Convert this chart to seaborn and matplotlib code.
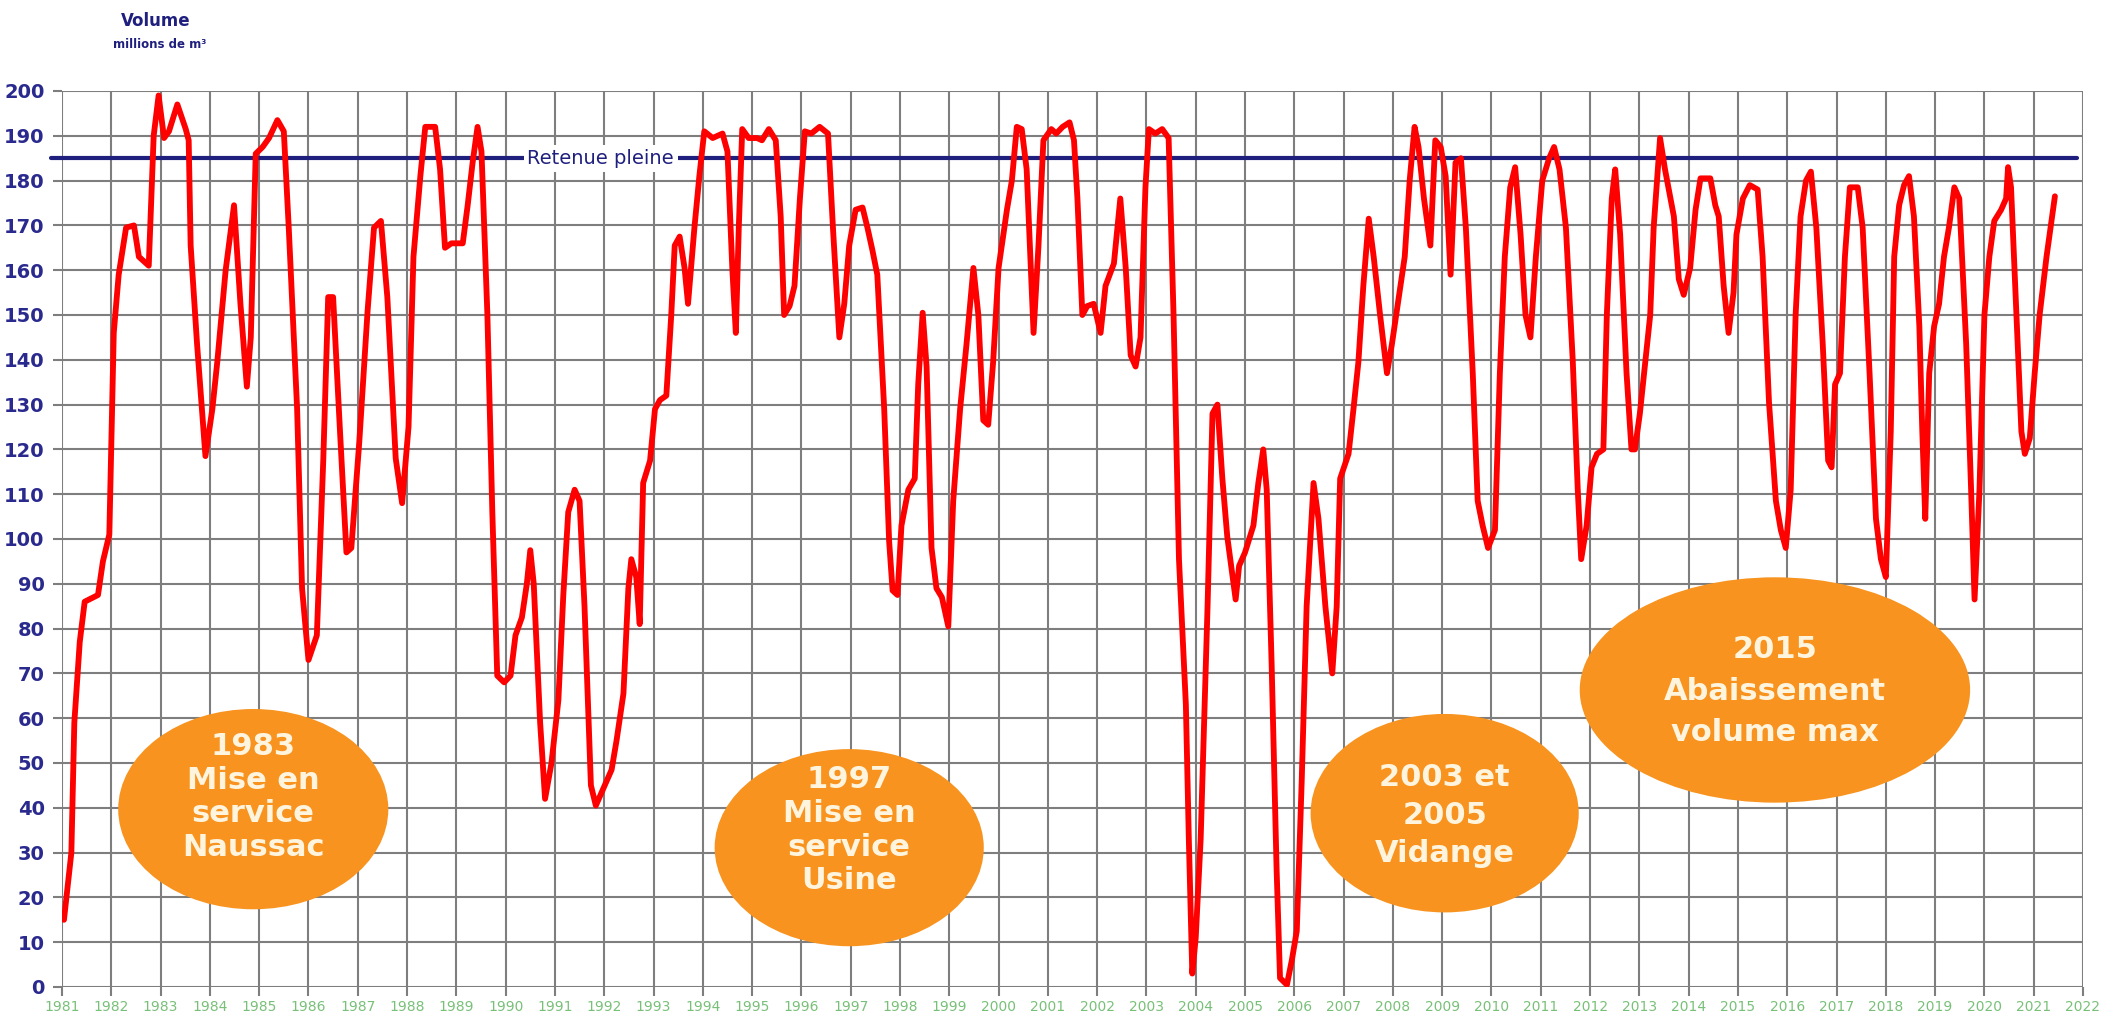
import matplotlib
matplotlib.use("Agg")
import matplotlib.pyplot as plt
from matplotlib.patches import Ellipse
import seaborn as sns
import pandas as pd

# ---- data ----
years = [
    1981.04, 1981.19, 1981.25, 1981.36, 1981.46, 1981.73, 1981.83, 1981.96,
    1982.05, 1982.15, 1982.30, 1982.46, 1982.56, 1982.76, 1982.86, 1982.96,
    1983.07, 1983.17, 1983.34, 1983.51, 1983.57, 1983.61, 1983.74, 1983.91,
    1984.05, 1984.15, 1984.32, 1984.49, 1984.62, 1984.75, 1984.83, 1984.93,
    1985.07, 1985.20, 1985.37, 1985.50, 1985.60, 1985.77, 1985.87, 1986.00,
    1986.17, 1986.30, 1986.40, 1986.50, 1986.64, 1986.77, 1986.87, 1987.03,
    1987.20, 1987.33, 1987.47, 1987.60, 1987.77, 1987.90, 1988.03, 1988.13,
    1988.27, 1988.37, 1988.57, 1988.67, 1988.77, 1988.90, 1989.13, 1989.23,
    1989.33, 1989.43, 1989.51, 1989.63, 1989.73, 1989.83, 1989.97, 1990.10,
    1990.20, 1990.33, 1990.43, 1990.50, 1990.57, 1990.70, 1990.80, 1990.93,
    1991.07, 1991.17, 1991.27, 1991.40, 1991.50, 1991.60, 1991.73, 1991.83,
    1991.97, 1992.15, 1992.25, 1992.39, 1992.49, 1992.55, 1992.65, 1992.72,
    1992.79, 1992.93, 1993.03, 1993.13, 1993.26, 1993.36, 1993.43, 1993.53,
    1993.63, 1993.70, 1993.83, 1993.93, 1994.03, 1994.20, 1994.40, 1994.50,
    1994.60, 1994.67, 1994.73, 1994.80, 1994.93, 1995.10, 1995.20, 1995.34,
    1995.48, 1995.58, 1995.65, 1995.76, 1995.86, 1995.97, 1996.07, 1996.20,
    1996.37, 1996.54, 1996.64, 1996.77, 1996.87, 1996.97, 1997.10, 1997.24,
    1997.34, 1997.44, 1997.54, 1997.68, 1997.78, 1997.85, 1997.95, 1998.03,
    1998.17, 1998.30, 1998.37, 1998.46, 1998.54, 1998.64, 1998.74, 1998.85,
    1998.98, 1999.08, 1999.22, 1999.35, 1999.49, 1999.59, 1999.69, 1999.79,
    1999.89, 2000.00, 2000.17, 2000.27, 2000.37, 2000.47, 2000.57, 2000.71,
    2000.81, 2000.91, 2001.07, 2001.17, 2001.30, 2001.44, 2001.53, 2001.60,
    2001.70, 2001.80, 2001.93, 2002.07, 2002.17, 2002.34, 2002.47, 2002.58,
    2002.68, 2002.78, 2002.88, 2002.98, 2003.05, 2003.18, 2003.32, 2003.45,
    2003.55, 2003.66, 2003.80, 2003.86, 2003.93, 2004.00, 2004.10, 2004.24,
    2004.34, 2004.44, 2004.54, 2004.64, 2004.81, 2004.88, 2005.00, 2005.17,
    2005.27, 2005.37, 2005.44, 2005.54, 2005.64, 2005.71, 2005.85, 2005.95,
    2006.05, 2006.15, 2006.25, 2006.39, 2006.49, 2006.63, 2006.77, 2006.86,
    2006.93, 2007.10, 2007.20, 2007.30, 2007.40, 2007.51, 2007.61, 2007.74,
    2007.88, 2007.98, 2008.10, 2008.24, 2008.34, 2008.44, 2008.52, 2008.63,
    2008.76, 2008.86, 2008.97, 2009.07, 2009.17, 2009.27, 2009.38, 2009.48,
    2009.62, 2009.72, 2009.82, 2009.93, 2010.07, 2010.17, 2010.27, 2010.38,
    2010.48, 2010.59, 2010.69, 2010.79, 2010.90, 2011.03, 2011.17, 2011.27,
    2011.38, 2011.51, 2011.65, 2011.75, 2011.82, 2011.93, 2012.03, 2012.14,
    2012.27, 2012.34, 2012.44, 2012.51, 2012.61, 2012.74, 2012.84, 2012.91,
    2013.01, 2013.12, 2013.22, 2013.29, 2013.42, 2013.52, 2013.70, 2013.80,
    2013.90, 2014.03, 2014.14, 2014.24, 2014.44, 2014.54, 2014.61, 2014.71,
    2014.81, 2014.91, 2014.97, 2015.10, 2015.24, 2015.40, 2015.50, 2015.63,
    2015.77, 2015.87, 2015.97, 2016.07, 2016.17, 2016.27, 2016.38, 2016.48,
    2016.59, 2016.72, 2016.83, 2016.90, 2016.97, 2017.07, 2017.17, 2017.27,
    2017.43, 2017.53, 2017.67, 2017.80, 2017.90, 2018.00, 2018.10, 2018.17,
    2018.27, 2018.37, 2018.47, 2018.57, 2018.68, 2018.74, 2018.80, 2018.88,
    2018.98, 2019.08, 2019.18, 2019.28, 2019.39, 2019.49, 2019.63, 2019.73,
    2019.80, 2019.90, 2020.00, 2020.10, 2020.20, 2020.34, 2020.44, 2020.48,
    2020.54, 2020.65, 2020.75, 2020.82, 2020.92, 2021.02, 2021.12, 2021.26,
    2021.43,
]
volumes = [
    15, 30, 59, 77, 86, 87.5, 95, 101,
    146, 159, 169.5, 170, 163, 161, 190, 199,
    189.5, 191, 197, 191.5, 189, 165.5, 143.5, 118.5,
    129, 139.5, 160, 174.5, 152.5, 134, 145, 186,
    187.5, 189.5, 193.5, 191, 169.5, 129, 89, 73,
    78.5, 117.5, 154, 154, 124, 97, 98, 121.5,
    151, 169.5, 171, 154, 118, 108, 125, 163,
    181, 192, 192, 182.5, 165, 166, 166, 174.5,
    184, 192, 186.5, 150, 106, 69.5, 68, 69.5,
    78.5, 82.5, 90, 97.5, 90, 59, 42, 50,
    64, 87.5, 106, 111, 108.5, 85, 45, 40.5,
    44, 48.5, 55, 65.5, 89, 95.5, 91.5, 81,
    112.5, 117.5, 129, 131, 132, 150, 165.5, 167.5,
    160.5, 152.5, 169.5, 181, 191, 189.5, 190.5, 186.5,
    160, 146, 169.5, 191.5, 189.5, 189.5, 189, 191.5,
    189, 172, 150, 152, 156.5, 176, 191, 190.5,
    192, 190.5, 169.5, 145, 152.5, 165.5, 173.5, 174,
    169.5, 164.5, 159, 129, 99.5, 88.5, 87.5, 103,
    111, 113.5, 134.5, 150.5, 138.5, 98, 89, 87,
    80.5, 108.5, 129, 143.5, 160.5, 150, 126.5, 125.5,
    139.5, 160.5, 173.5, 180, 192, 191.5, 182.5, 146,
    165.5, 189, 191.5, 190.5, 192, 193, 189, 176,
    150, 152, 152.5, 146, 156.5, 161.5, 176, 160.5,
    141, 138.5, 145, 178.5, 191.5, 190.5, 191.5, 189.5,
    150, 95.5, 63, 33, 3, 11, 33, 85,
    128, 130, 113.5, 100.5, 86.5, 94, 97, 103,
    112.5, 120, 111, 72, 26.5, 2, 0.5, 6,
    12.5, 46, 85, 112.5, 104.5, 85, 70, 85,
    113.5, 119, 129, 139.5, 156.5, 171.5, 163, 150,
    137, 143.5, 152.5, 163, 180, 192, 187.5, 176,
    165.5, 189, 187.5, 181, 159, 184, 185, 169.5,
    137, 108.5, 103, 98, 102, 137, 163, 178.5,
    183, 168, 150, 145, 163, 180, 185, 187.5,
    182.5, 169.5, 139.5, 111, 95.5, 103, 116, 119,
    120, 150, 176, 182.5, 168, 137, 120, 120,
    128, 139.5, 150, 169.5, 189.5, 182.5, 172, 158,
    154.5, 160.5, 173.5, 180.5, 180.5, 174.5, 172, 156.5,
    146, 155, 168, 176, 179, 178, 163, 130.5,
    108.5, 102, 98, 111, 150, 172, 180, 182,
    169.5, 143.5, 117.5, 116, 134.5, 137, 163, 178.5,
    178.5, 169.5, 137, 104.5, 95.5, 91.5, 124, 163,
    174.5, 179, 181, 172, 147.5, 124, 104.5, 137,
    147.5, 152.5, 163, 169.5, 178.5, 176, 143.5, 111,
    86.5, 111, 150, 163, 171, 173.5, 176, 183,
    178.5, 150, 124, 119, 122.5, 137, 150, 163,
    176.5,
]
x_ticks = list(range(1981, 2023))
y_ticks = list(range(0, 201, 10))
full_level = 185
full_label = "Retenue pleine"
title_main = "Volume"
title_unit = "millions de m³"
notes = [
    "1983\nMise en\nservice\nNaussac",
    "1997\nMise en\nservice\nUsine",
    "2003 et\n2005\nVidange",
    "2015\nAbaissement\nvolume max",
]
# bubble geometry (data coords): centre x, centre y, width (years), height
note_shapes = [
    (1984.88, 39.7, 5.48, 44.7),
    (1996.97, 31.1, 5.46, 44.0),
    (2009.05, 38.8, 5.44, 44.3),
    (2015.75, 66.3, 7.92, 50.3),
]
# text placement inside bubbles: centre y, line spacing
note_text = [(42.4, 1.2), (35.0, 1.2), (38.3, 1.38), (66.0, 1.55)]

df = pd.DataFrame({"year": years, "volume": volumes})

sns.set_theme(style="white")
plt.rcParams["font.family"] = ["DejaVu Sans"]

W, H = 2105, 1018
fig = plt.figure(figsize=(W / 100, H / 100), dpi=100)
fig.patch.set_facecolor("white")
left_px, right_px, top_px, bottom_px = 62, 2083, 91, 987
ax = fig.add_axes([left_px / W, 1 - bottom_px / H,
                   (right_px - left_px) / W, (bottom_px - top_px) / H])
ax.set_facecolor("white")

NAVY = "#1f1f7e"
GRID = "#7e7e7e"
ORANGE = "#F7931E"

sns.lineplot(data=df, x="year", y="volume", ax=ax, color="#ff0000",
             linewidth=4.2, sort=False, estimator=None, zorder=4,
             solid_joinstyle="round", solid_capstyle="round")

ax.set_xlim(1981, 2022)
ax.set_ylim(0, 200)
ax.set_xticks(x_ticks)
ax.set_yticks(y_ticks)
ax.set_xticklabels([str(t) for t in x_ticks])
ax.set_yticklabels([str(t) for t in y_ticks])
ax.grid(True, color=GRID, linewidth=1.5)
ax.set_axisbelow(True)
for s in ax.spines.values():
    s.set_visible(False)
ax.set_xlabel("")
ax.set_ylabel("")

ax.tick_params(axis="both", which="major", length=6.5, width=1.5,
               color=GRID, bottom=True, left=True)
ax.tick_params(axis="y", pad=6, labelsize=14, labelcolor="#2a2a8e")
ax.tick_params(axis="x", pad=3, labelsize=10, labelcolor="#78c078")
for lab in ax.get_yticklabels():
    lab.set_fontweight("bold")
for lab in ax.get_xticklabels():
    lab.set_family(["Liberation Sans Narrow", "DejaVu Sans"])

# full reservoir line
ax.plot([1980.78, 2021.88], [full_level, full_level], color=NAVY,
        linewidth=3.0, clip_on=False, zorder=3)
ax.text(1991.93, full_level, full_label, color=NAVY, fontsize=14,
        ha="center", va="center", zorder=6,
        bbox=dict(boxstyle="square,pad=0.2", facecolor="white",
                  edgecolor="none"))

# orange bubbles
for (cx, cy, w, h), (ty, ls), txt in zip(note_shapes, note_text, notes):
    ax.add_patch(Ellipse((cx, cy), w, h, facecolor=ORANGE,
                         edgecolor="none", zorder=3))
    ax.text(cx, ty, txt, color="#fff4de", fontsize=22, fontweight="bold",
            ha="center", va="center", linespacing=ls, zorder=5)

# title
fig.text(156 / W, 1 - 21 / H, title_main, color=NAVY, fontsize=12,
         fontweight="bold", ha="center", va="center")
fig.text(160 / W, 1 - 44 / H, title_unit, color=NAVY, fontsize=8.5,
         fontweight="bold", ha="center", va="center")

fig.savefig("out.png", dpi=100, facecolor="white")
